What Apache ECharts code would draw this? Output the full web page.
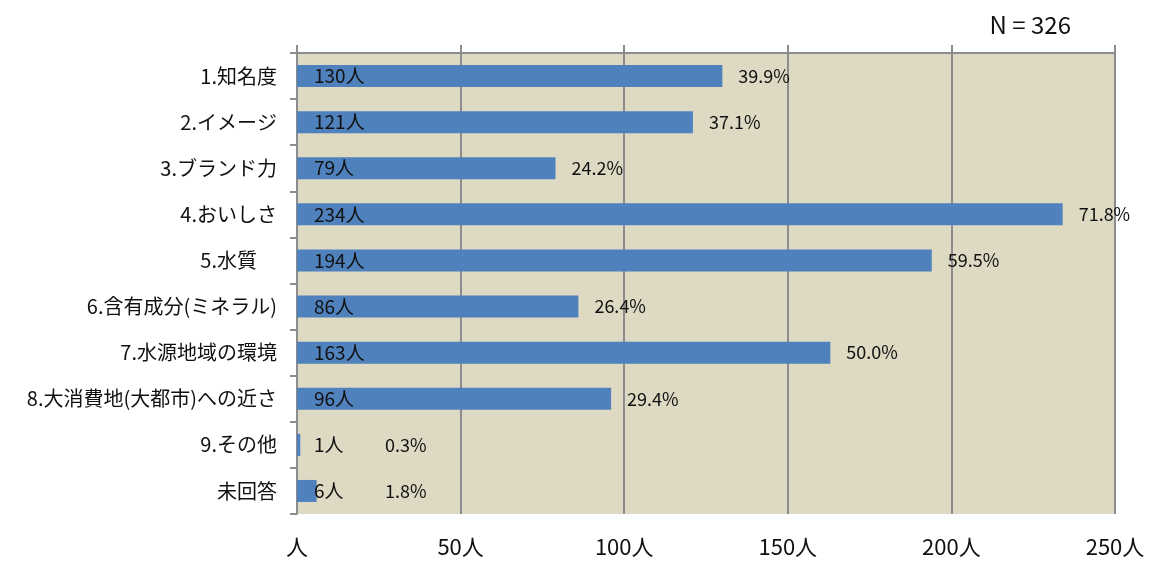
<!DOCTYPE html>
<html>
<head>
<meta charset="utf-8">
<script src="https://cdn.jsdelivr.net/npm/echarts@6/dist/echarts.min.js"></script>
<style>
  html, body { margin: 0; padding: 0; background: #fff; }
  #main { width: 1150px; height: 561px; }
</style>
</head>
<body>
<div id="main"></div>
<script>
// data
const categories = [
  '1.知名度', '2.イメージ', '3.ブランド力', '4.おいしさ', '5.水質　',
  '6.含有成分(ミネラル)', '7.水源地域の環境', '8.大消費地(大都市)への近さ',
  '9.その他', '未回答'
];
const counts = [130, 121, 79, 234, 194, 86, 163, 96, 1, 6];
const percents = ['39.9%', '37.1%', '24.2%', '71.8%', '59.5%', '26.4%', '50.0%', '29.4%', '0.3%', '1.8%'];
const xTicks = [0, 50, 100, 150, 200, 250];
const totalN = 326;

const FONT = '"Noto Sans CJK JP", "Noto Sans", sans-serif';
const chart = echarts.init(document.getElementById('main'));

// percent labels never sit closer to the axis than this (like the original)
const minPctAnchor = 22;

const option = {
  animation: false,
  textStyle: { fontFamily: FONT },
  title: {
    text: 'N = ' + totalN,
    right: 74,
    top: 8,
    textStyle: { fontSize: 24, fontWeight: 'normal', color: '#111', fontFamily: FONT }
  },
  grid: { left: 297, right: 35, top: 53, bottom: 47, containLabel: false,
          show: true, backgroundColor: '#ddd9c3', borderWidth: 0 },
  xAxis: [{
    type: 'value', min: xTicks[0], max: xTicks[xTicks.length - 1], interval: 50, position: 'bottom',
    axisLine: { show: false }, axisTick: { show: false },
    splitLine: { show: true, lineStyle: { color: '#8c8c8c', width: 2 } },
    axisLabel: {
      margin: 22, fontSize: 22, color: '#111',
      formatter: v => (v === 0 ? '' : v) + '人'
    }
  }, {
    type: 'value', min: xTicks[0], max: xTicks[xTicks.length - 1], interval: 50, position: 'top',
    axisLine: { show: true, lineStyle: { color: '#8c8c8c', width: 2 } },
    axisTick: { show: true, length: 8, lineStyle: { color: '#8c8c8c', width: 2 } },
    splitLine: { show: false }, axisLabel: { show: false }
  }],
  yAxis: {
    type: 'category', inverse: true, data: categories,
    axisLine: { show: true, lineStyle: { color: '#8c8c8c', width: 2 } },
    axisTick: { show: true, length: 7, lineStyle: { color: '#8c8c8c', width: 2 } },
    axisLabel: { margin: 20, fontSize: 20, color: '#111' }
  },
  series: [{
    type: 'bar', data: counts, barWidth: 22,
    itemStyle: { color: '#4f81bd' },
    label: {
      show: true, position: 'insideLeft', distance: 17,
      fontSize: 19, color: '#111',
      formatter: p => p.value + '人'
    },
    z: 3
  }, {
    type: 'bar', barGap: '-100%', barWidth: 22, silent: true,
    data: counts.map(v => Math.max(v, minPctAnchor)),
    itemStyle: { color: 'rgba(0,0,0,0)' },
    label: {
      show: true, position: 'right', distance: 16,
      fontSize: 18, color: '#111',
      formatter: p => percents[p.dataIndex]
    },
    z: 2
  }]
};
chart.setOption(option);
</script>
</body>
</html>
